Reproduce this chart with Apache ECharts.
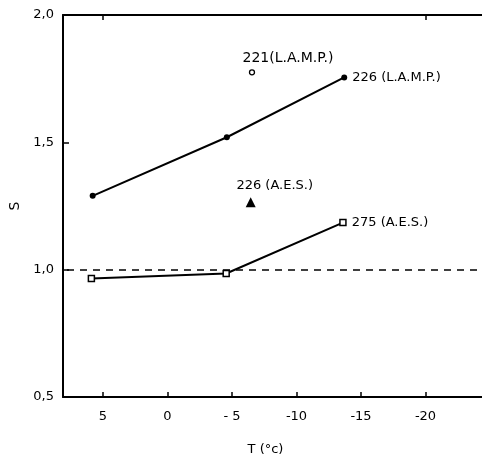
<!DOCTYPE html>
<html>
<head>
<meta charset="utf-8">
<script src="https://cdn.jsdelivr.net/npm/echarts@6/dist/echarts.min.js"></script>
<style>html,body{margin:0;padding:0;background:#fff}#c{width:482px;height:465px}</style>
</head>
<body>
<div id="c"></div>
<script>
// Data
const lampT = [5.8, -4.6, -13.7];
const lampS = [1.29, 1.52, 1.755];
const aesT = [5.9, -4.55, -13.6];
const aesS = [0.965, 0.985, 1.185];
const lamp221T = [-6.55];
const lamp221S = [1.775];
const aes226T = [-6.45];
const aes226S = [1.265];
const labelLamp226 = '226 (L.A.M.P.)';
const labelAes275 = '275 (A.E.S.)';
const labelLamp221 = '221(L.A.M.P.)';
const labelAes226 = '226 (A.E.S.)';
const refLine = 1.0;
const xTicks = [5, 0, -5, -10, -15, -20];
const xTickText = ['5', '0', '- 5', '-10', '-15', '-20'];
const yTicks = [0.5, 1.0, 1.5, 2.0];

const font = 'DejaVu Sans';
const txt = {color: '#000', fontFamily: font, fontSize: 13, opacity: 1};
const lastLabel = (i, n, text) => i === n - 1 ? Object.assign({show: true, position: 'right', distance: 5, formatter: text}, txt) : {show: false};

const chart = echarts.init(document.getElementById('c'), null, {renderer: 'canvas'});
chart.setOption({
  animation: false,
  backgroundColor: '#fff',
  grid: {left: 63, top: 15, bottom: 68, right: -8, containLabel: false, outerBoundsMode: 'none'},
  xAxis: [{
    type: 'value', inverse: true, min: -25, max: 8.1,
    name: 'T (°c)', nameLocation: 'middle', nameGap: 46,
    nameTextStyle: {color: '#000', fontFamily: font, fontSize: 13, padding: [0, 22, 0, 0]},
    axisLine: {show: true, onZero: false, lineStyle: {color: '#000', width: 2}},
    axisTick: {show: true, inside: true, length: 5, customValues: xTicks, lineStyle: {color: '#000', width: 1.5}},
    axisLabel: {color: '#000', fontFamily: font, fontSize: 13, margin: 13, customValues: xTicks,
      formatter: v => { const k = xTicks.indexOf(v); return k >= 0 ? xTickText[k] : ''; }},
    splitLine: {show: false}
  }, {
    type: 'value', inverse: true, min: -25, max: 8.1, position: 'top',
    axisLine: {show: true, onZero: false, lineStyle: {color: '#000', width: 2}},
    axisTick: {show: true, inside: true, length: 5, customValues: [5, -20], lineStyle: {color: '#000', width: 1.5}},
    axisLabel: {show: false}, splitLine: {show: false}
  }],
  yAxis: {
    type: 'value', min: 0.5, max: 2.0, interval: 0.5,
    name: 'S', nameLocation: 'middle', nameGap: 33, nameRotate: 90,
    nameTextStyle: {color: '#000', fontFamily: font, fontSize: 14},
    axisLine: {show: true, onZero: false, lineStyle: {color: '#000', width: 2}},
    axisTick: {show: true, inside: true, length: 6, lineStyle: {color: '#000', width: 1.5}},
    axisLabel: {color: '#000', fontFamily: font, fontSize: 13, margin: 9,
      formatter: v => yTicks.some(t => Math.abs(t - v) < 1e-9) ? v.toFixed(1).replace('.', ',') : ''},
    splitLine: {show: false}
  },
  series: [{
    type: 'line', xAxisIndex: 0,
    data: lampT.map((t, i) => ({value: [t, lampS[i]], label: lastLabel(i, lampT.length, labelLamp226)})),
    symbol: 'circle', symbolSize: 6,
    itemStyle: {color: '#000'},
    lineStyle: {color: '#000', width: 2}
  }, {
    type: 'line', xAxisIndex: 0,
    data: aesT.map((t, i) => ({value: [t, aesS[i]], label: lastLabel(i, aesT.length, labelAes275)})),
    symbol: 'rect', symbolSize: 6,
    itemStyle: {color: '#fff', borderColor: '#000', borderWidth: 1.5},
    lineStyle: {color: '#000', width: 2},
    markLine: {
      silent: true, symbol: 'none', label: {show: false},
      lineStyle: {color: '#000', width: 1.5, type: [7, 6]},
      data: [{yAxis: refLine}]
    }
  }, {
    type: 'scatter', xAxisIndex: 0,
    data: lamp221T.map((t, i) => [t, lamp221S[i]]),
    symbol: 'circle', symbolSize: 5,
    itemStyle: {color: '#fff', borderColor: '#000', borderWidth: 1.3, opacity: 1},
    label: Object.assign({show: true, position: 'top', distance: 4, offset: [36, 0], formatter: labelLamp221}, txt, {fontSize: 14})
  }, {
    type: 'scatter', xAxisIndex: 0,
    data: aes226T.map((t, i) => [t, aes226S[i]]),
    symbol: 'triangle', symbolSize: 10,
    itemStyle: {color: '#000', opacity: 1},
    label: Object.assign({show: true, position: 'top', distance: 5, offset: [24, 0], formatter: labelAes226}, txt)
  }]
});
</script>
</body>
</html>
